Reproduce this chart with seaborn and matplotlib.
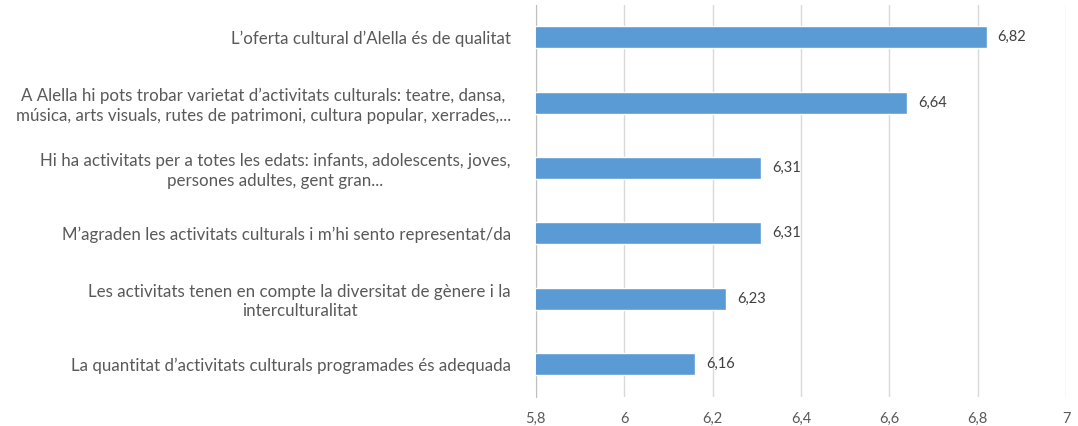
import pandas as pd
import seaborn as sns
import matplotlib.pyplot as plt
from matplotlib.ticker import FuncFormatter

labels = [
    "L\u2019oferta cultural d\u2019Alella és de qualitat",
    "A Alella hi pots trobar varietat d\u2019activitats culturals: teatre, dansa,\nmúsica, arts visuals, rutes de patrimoni, cultura popular, xerrades,...",
    "Hi ha activitats per a totes les edats: infants, adolescents, joves,\npersones adultes, gent gran...",
    "M\u2019agraden les activitats culturals i m\u2019hi sento representat/da",
    "Les activitats tenen en compte la diversitat de gènere i la\ninterculturalitat",
    "La quantitat d\u2019activitats culturals programades és adequada",
]
values = [6.82, 6.64, 6.31, 6.31, 6.23, 6.16]
ticks = [5.8, 6.0, 6.2, 6.4, 6.6, 6.8, 7.0]

sns.set_style("white")
plt.rcParams["font.family"] = ["Lato", "DejaVu Sans"]

df = pd.DataFrame({"label": labels, "value": values})

fig = plt.figure(figsize=(10.78, 4.26), dpi=100)
ax = fig.add_axes([0.497, 0.069, 0.492, 0.92])
sns.barplot(x="value", y="label", data=df, color="#5B9BD5", width=0.34,
            saturation=1, ax=ax, zorder=3)

ax.set_xlim(5.8, 7.0)
ax.set_xticks(ticks)
ax.xaxis.set_major_formatter(FuncFormatter(lambda v, p: f"{v:g}".replace(".", ",")))
ax.grid(axis="x", color="#d9d9d9", linewidth=1, zorder=0)
for s in ["top", "right", "bottom"]:
    ax.spines[s].set_visible(False)
ax.spines["left"].set_color("#bfbfbf")
ax.tick_params(axis="x", length=7, width=1, color="#d9d9d9", pad=4,
               labelsize=10.5, labelcolor="#595959")
ax.tick_params(axis="y", length=0, pad=18, labelsize=12.2, labelcolor="#595959")
for t in ax.get_yticklabels():
    t.set_multialignment("center")
    t.set_linespacing(1.25)
ax.set_xlabel("")
ax.set_ylabel("")

for i, v in enumerate(values):
    ax.text(v + 0.025, i, f"{v:.2f}".replace(".", ","), va="center", ha="left",
            fontsize=10.5, color="#404040")

fig.savefig("out.png", dpi=100)
